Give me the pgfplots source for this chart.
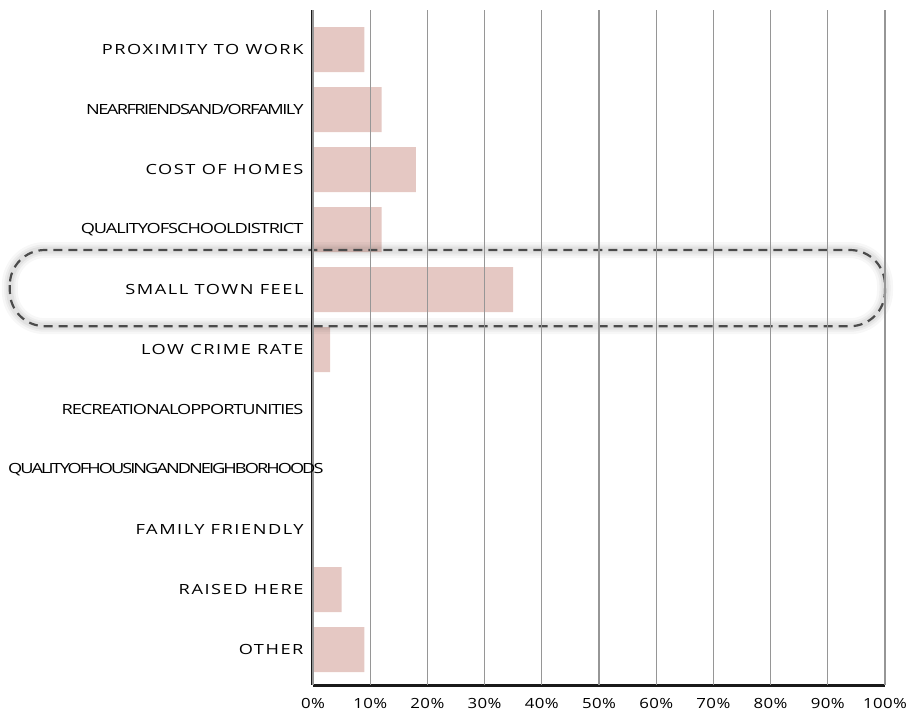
\documentclass[border=0pt]{standalone}
\usepackage{pgfplots}
\pgfplotsset{compat=1.18}
\usepackage{fontspec}
\setmainfont{Open Sans}
\newfontfamily\spaced[LetterSpace=11, FakeStretch=1.3]{Open Sans}
\newfontfamily\tight[LetterSpace=-7.5, FakeStretch=1.3]{Open Sans}
\newfontfamily\tightb[LetterSpace=-11, FakeStretch=1.3]{Open Sans}
\newfontfamily\tighter[LetterSpace=-14, FakeStretch=1.3]{Open Sans}
\newfontfamily\ticks[LetterSpace=3, FakeStretch=1.2]{Open Sans}
\definecolor{barc}{RGB}{229,200,195}
\definecolor{gridc}{RGB}{150,150,150}
\definecolor{dashc}{RGB}{75,75,75}
\begin{document}
\begin{tikzpicture}
\useasboundingbox (-313pt,-28pt) rectangle (594pt,685pt);
\begin{axis}[
  at={(0pt,0pt)}, anchor=south west,
  scale only axis, width=572pt, height=675pt,
  xmin=0, xmax=100, ymin=-0.66, ymax=10.59, y dir=reverse,
  xbar, bar width=45pt,
  axis line style={draw=none},
  axis on top,
  clip=false,
  xmajorgrids, grid style={gridc, line width=1.1pt},
  major tick length=0pt,
  xtick={0,10,...,100},
  xticklabel={\pgfmathprintnumber{\tick}\%},
  /pgf/number format/assume math mode=true,
  xticklabel style={font=\fontsize{14}{17}\selectfont\ticks, text=black, yshift=-10pt},
  ytick={0,...,10},
  yticklabels={
    {\spaced PROXIMITY TO WORK},
    {\tightb NEARFRIENDSAND/ORFAMILY},
    {\spaced COST OF HOMES},
    {\tight QUALITYOFSCHOOLDISTRICT},
    {\spaced SMALL TOWN FEEL},
    {\spaced LOW CRIME RATE},
    {\tight RECREATIONALOPPORTUNITIES},
    {\tighter QUALITYOFHOUSINGANDNEIGHBORHOODS\hspace*{-20pt}},
    {\spaced FAMILY FRIENDLY},
    {\spaced RAISED HERE},
    {\spaced OTHER}},
  yticklabel style={font=\fontsize{14}{17}\selectfont, text=black, anchor=east, xshift=-6pt},
]
\addplot[fill=barc, draw=none] coordinates {
  (9,0) (12,1) (18,2) (12,3) (35,4) (3,5) (0,6) (0,7) (0,8) (5,9) (9,10)};
\draw[black, opacity=0.03, line width=16pt, rounded corners=35pt]
  (axis cs:-53,3.34) rectangle (axis cs:100,4.61);
\draw[black, opacity=0.04, line width=11pt, rounded corners=35pt]
  (axis cs:-53,3.34) rectangle (axis cs:100,4.61);
\draw[black, opacity=0.05, line width=7pt, rounded corners=35pt]
  (axis cs:-53,3.34) rectangle (axis cs:100,4.61);
\draw[dashc, line width=2.2pt, dash pattern=on 9pt off 6pt, rounded corners=35pt]
  (axis cs:-53,3.34) rectangle (axis cs:100,4.61);
\draw[black!90, line width=3pt] (axis cs:0,-0.66) -- (axis cs:0,10.59);
\draw[black!90, line width=3pt] (axis cs:0,10.59) -- (axis cs:100,10.59);
\end{axis}
\end{tikzpicture}
\end{document}
